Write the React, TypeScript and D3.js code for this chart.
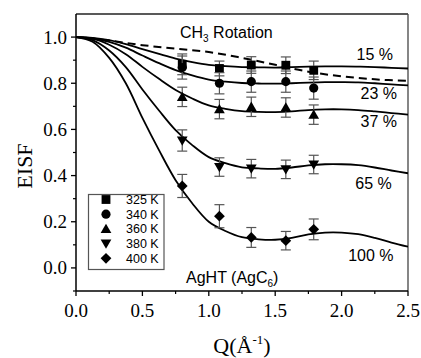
import React from "react";
import * as d3 from "d3";

const W = 421;
const H = 358;

// Measured points
const qPoints = [0.8, 1.08, 1.32, 1.58, 1.79];
const temps = ["325 K", "340 K", "360 K", "380 K", "400 K"];
const v325 = [0.882, 0.864, 0.879, 0.878, 0.856];
const v340 = [0.868, 0.8, 0.807, 0.807, 0.779];
const v360 = [0.741, 0.688, 0.698, 0.695, 0.664];
const v380 = [0.552, 0.437, 0.43, 0.427, 0.448];
const v400 = [0.355, 0.224, 0.132, 0.118, 0.167];
const e325 = [0.045, 0.032, 0.036, 0.036, 0.04];
const e340 = [0.05, 0.046, 0.046, 0.046, 0.048];
const e360 = [0.042, 0.042, 0.042, 0.042, 0.042];
const e380 = [0.046, 0.04, 0.04, 0.04, 0.04];
const e400 = [0.05, 0.05, 0.043, 0.04, 0.045];

// Fit curves
const qCurve = [0, 0.125, 0.25, 0.375, 0.5, 0.625, 0.75, 0.875, 1.0, 1.125, 1.25, 1.375, 1.5, 1.625, 1.75, 1.875, 2.0, 2.125, 2.25, 2.375, 2.5];
const fit15 = [1.0, 0.997, 0.987, 0.97, 0.948, 0.927, 0.907, 0.892, 0.88, 0.874, 0.87, 0.869, 0.868, 0.87, 0.872, 0.873, 0.873, 0.872, 0.87, 0.867, 0.864];
const fit23 = [1.0, 0.995, 0.979, 0.954, 0.92, 0.887, 0.857, 0.834, 0.816, 0.807, 0.801, 0.799, 0.798, 0.8, 0.803, 0.805, 0.805, 0.804, 0.8, 0.795, 0.791];
const fit37 = [1.0, 0.993, 0.967, 0.926, 0.871, 0.819, 0.771, 0.734, 0.704, 0.689, 0.679, 0.676, 0.675, 0.678, 0.684, 0.687, 0.687, 0.684, 0.678, 0.671, 0.664];
const fit65 = [1.0, 0.987, 0.942, 0.87, 0.773, 0.682, 0.597, 0.532, 0.48, 0.454, 0.436, 0.431, 0.429, 0.435, 0.444, 0.449, 0.449, 0.445, 0.435, 0.422, 0.41];
const fit100 = [1.0, 0.98, 0.91, 0.8, 0.65, 0.51, 0.38, 0.28, 0.2, 0.16, 0.133, 0.124, 0.122, 0.13, 0.145, 0.153, 0.153, 0.146, 0.13, 0.11, 0.092];
const fitLabels = ["15 %", "23 %", "37 %", "65 %", "100 %"];

// CH3 rotation curve (dashed)
const qCH3 = [0, 0.25, 0.5, 0.75, 1.0, 1.25, 1.5, 1.75, 2.0, 2.25, 2.5];
const vCH3 = [1.0, 0.985, 0.965, 0.95, 0.935, 0.91, 0.88, 0.85, 0.83, 0.817, 0.81];

const xTicks = [0, 0.5, 1.0, 1.5, 2.0, 2.5];
const xMinor = [0.25, 0.75, 1.25, 1.75, 2.25];
const yTicks = [0, 0.2, 0.4, 0.6, 0.8, 1.0];
const yMinor = [-0.1, 0.1, 0.3, 0.5, 0.7, 0.9];

const L = 76, R = 408, T = 14, B = 291;
const x = d3.scaleLinear().domain([0, 2.5]).range([L, R]);
const y = d3.scaleLinear().domain([-0.1, 1.1]).range([B, T]);

const series = [
  { v: v325, e: e325 },
  { v: v340, e: e340 },
  { v: v360, e: e360 },
  { v: v380, e: e380 },
  { v: v400, e: e400 },
];
const fits = [fit15, fit23, fit37, fit65, fit100];

const symbolPath = (i: number) => {
  const types = [d3.symbolSquare, d3.symbolCircle, d3.symbolTriangle, d3.symbolTriangle, d3.symbolSquare];
  const sizes = [78, 66, 50, 50, 58];
  return d3.symbol().type(types[i]).size(sizes[i])() as string;
};
const symbolTransform = (i: number, cx: number, cy: number) => {
  if (i === 2) return `translate(${cx},${cy + 1})`;
  if (i === 3) return `translate(${cx},${cy - 1}) rotate(180)`;
  if (i === 4) return `translate(${cx},${cy}) rotate(45)`;
  return `translate(${cx},${cy})`;
};

const line = d3.line<[number, number]>().x((d) => x(d[0])).y((d) => y(d[1])).curve(d3.curveCatmullRom);

// label positions (in data units)
const labelPos: [number, number][] = [
  [2.25, 0.9],
  [2.28, 0.733],
  [2.28, 0.612],
  [2.24, 0.34],
  [2.22, 0.03],
];

export default function App() {
  const sans = "'Liberation Sans', Arial, sans-serif";
  const serif = "'Liberation Serif', 'Times New Roman', serif";
  return (
    <svg width={W} height={H} style={{ position: "absolute", left: 0, top: 0, background: "#fff" }}>
      <rect x={0} y={0} width={W} height={H} fill="#fff" />
      <defs>
        <clipPath id="plot">
          <rect x={L} y={T} width={R - L} height={B - T} />
        </clipPath>
      </defs>
      {/* frame */}
      <line x1={L} y1={T} x2={R} y2={T} stroke="#222" strokeWidth={1.3} />
      <line x1={R} y1={T} x2={R} y2={B} stroke="#444" strokeWidth={1.3} />
      <line x1={L} y1={T} x2={L} y2={B} stroke="#000" strokeWidth={1.5} />
      <line x1={L} y1={B} x2={R} y2={B} stroke="#000" strokeWidth={1.5} />
      {/* x ticks */}
      {xTicks.map((t) => (
        <g key={"xt" + t}>
          <line x1={x(t)} x2={x(t)} y1={B} y2={B + 5} stroke="#000" strokeWidth={1.3} />
          <text x={x(t)} y={317} textAnchor="middle" fontFamily={serif} fontSize={19}>
            {t.toFixed(1)}
          </text>
        </g>
      ))}
      {xMinor.map((t) => (
        <line key={"xm" + t} x1={x(t)} x2={x(t)} y1={B} y2={B + 3} stroke="#000" strokeWidth={1.2} />
      ))}
      {/* y ticks */}
      {yTicks.map((t) => (
        <g key={"yt" + t}>
          <line x1={L - 5} x2={L} y1={y(t)} y2={y(t)} stroke="#000" strokeWidth={1.3} />
          <text x={67} y={y(t) + 6.5} textAnchor="end" fontFamily={serif} fontSize={19}>
            {t.toFixed(1)}
          </text>
        </g>
      ))}
      {yMinor.map((t) => (
        <line key={"ym" + t} x1={L - 3} x2={L} y1={y(t)} y2={y(t)} stroke="#000" strokeWidth={1.2} />
      ))}
      {/* axis titles */}
      <text transform={`translate(32,166) rotate(-90)`} textAnchor="middle" fontFamily={serif} fontSize={22}>
        EISF
      </text>
      <text x={242} y={353} textAnchor="middle" fontFamily={serif} fontSize={22}>
        Q(Å<tspan fontSize={13} dy={-9}>-1</tspan>
        <tspan dy={9}>)</tspan>
      </text>

      <g clipPath="url(#plot)">
        {/* dashed CH3 */}
        <path
          d={line(qCH3.map((q, i) => [q, vCH3[i]] as [number, number])) as string}
          fill="none"
          stroke="#000"
          strokeWidth={2}
          strokeDasharray="8,5"
        />
        {fits.map((f, k) => (
          <path
            key={"fit" + k}
            d={line(qCurve.map((q, i) => [q, f[i]] as [number, number])) as string}
            fill="none"
            stroke="#000"
            strokeWidth={1.8}
          />
        ))}
      </g>

      {/* error bars and markers */}
      {series.map((s, k) => (
        <g key={"s" + k}>
          {qPoints.map((q, i) => {
            const cx = x(q);
            const y1 = y(s.v[i] + s.e[i]);
            const y2 = y(s.v[i] - s.e[i]);
            return (
              <g key={i} stroke="#555" strokeWidth={1.2}>
                <line x1={cx} x2={cx} y1={y1} y2={y2} />
                <line x1={cx - 5} x2={cx + 5} y1={y1} y2={y1} />
                <line x1={cx - 5} x2={cx + 5} y1={y2} y2={y2} />
              </g>
            );
          })}
          {qPoints.map((q, i) => (
            <path key={"m" + i} d={symbolPath(k)} transform={symbolTransform(k, x(q), y(s.v[i]))} fill="#000" />
          ))}
        </g>
      ))}

      {/* curve labels */}
      {fitLabels.map((lab, k) => (
        <text key={lab} x={x(labelPos[k][0])} y={y(labelPos[k][1])} textAnchor="middle" fontFamily={sans} fontSize={16}>
          {lab}
        </text>
      ))}
      <text x={180} y={38} fontFamily={sans} fontSize={16}>
        CH<tspan fontSize={10} dy={4}>3</tspan>
        <tspan dy={-4}> Rotation</tspan>
      </text>
      <text x={186} y={283} fontFamily={sans} fontSize={16}>
        AgHT (AgC<tspan fontSize={10} dy={4}>6</tspan>
        <tspan dy={-4}>)</tspan>
      </text>

      {/* legend */}
      <rect x={88.5} y={194.5} width={75.5} height={75} fill="#fff" stroke="#555" strokeWidth={1.2} />
      {temps.map((t, k) => {
        const ly = 199.5 + k * 14.7;
        return (
          <g key={t}>
            <path d={symbolPath(k)} transform={symbolTransform(k, 106, ly)} fill="#000" />
            <text x={126} y={ly + 4.5} fontFamily={sans} fontSize={12.5}>
              {t}
            </text>
          </g>
        );
      })}
    </svg>
  );
}
